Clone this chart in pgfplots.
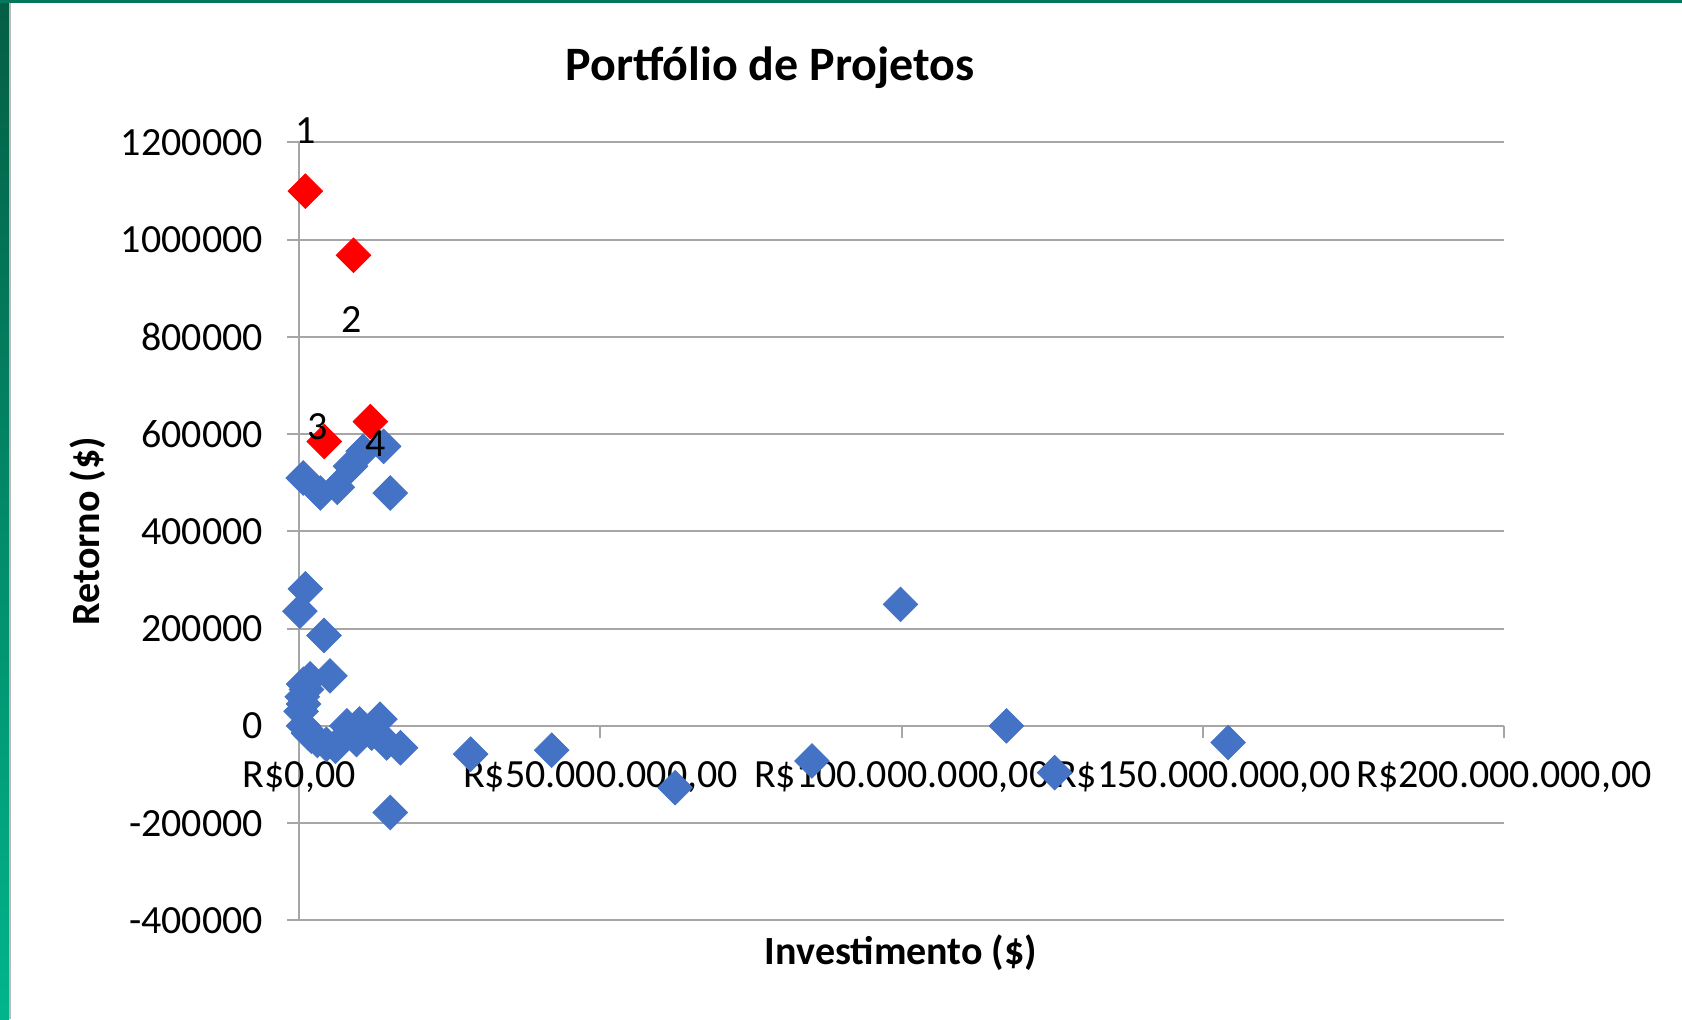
\documentclass[border=0pt]{standalone}
\usepackage{fontspec}
\setmainfont{Carlito}
\usepackage{pgfplots}
\pgfplotsset{compat=1.18}
\definecolor{blueM}{HTML}{4472C4}
\definecolor{redM}{HTML}{FF0000}
\definecolor{gridc}{HTML}{A6A6A6}
\definecolor{gdark}{HTML}{045E44}
\definecolor{glight}{HTML}{00B58C}
\pgfplotstableread{
x y
660000 510000
3500000 479000
6300000 491000
8500000 534000
10600000 565000
14000000 575000
15100000 479000
1000000 282000
100000 236000
4100000 186000
5100000 103000
1800000 97000
700000 86000
500000 60000
300000 30000
700000 45000
1200000 75000
700000 0
1500000 -15000
2000000 -21000
3000000 -30000
4500000 -38000
6000000 -42000
7900000 0
9500000 -28000
10000000 4000
12000000 -15000
13400000 14000
14500000 -35000
16800000 -45000
15100000 -178000
28450000 -58000
41900000 -50000
62400000 -127000
85100000 -72000
99800000 250000
117400000 0
125400000 -96000
154200000 -34000
}\bluedata
\pgfplotstableread{
x y
1000000 1100000
9000000 968000
4150000 585000
11800000 626000
}\reddata
\begin{document}
\begin{tikzpicture}[x=0.5pt,y=0.5pt]
\useasboundingbox (0,0) rectangle (1682,1019);
\fill[white] (0,0) rectangle (1682,1019);
\shade[top color=gdark, bottom color=glight] (0,0) rectangle (9,1019);
\fill[gdark!70!glight] (0,1016) rectangle (1682,1019);
\fill[gray!55] (9,0) rectangle (11,1016);
\begin{axis}[
  at={(149.65pt,49.3pt)}, anchor=south west,
  scale only axis, width=602.35pt, height=388.95pt,
  xmin=0, xmax=200000000, ymin=-400000, ymax=1200000,
  clip=false, scaled ticks=false,
  axis x line*=middle, axis y line*=left,
  hide obscured x ticks=false, hide obscured y ticks=false,
  axis line style={gridc, line width=1pt},
  xtick={0,50000000,100000000,150000000,200000000},
  xticklabels={R\$0{,}00,R\$50.000.000{,}00,R\$100.000.000{,}00,R\$150.000.000{,}00,R\$200.000.000{,}00},
  ytick={-400000,-200000,0,200000,400000,600000,800000,1000000,1200000},
  yticklabels={-400000,-200000,0,200000,400000,600000,800000,1000000,1200000},
  tick align=outside, major tick length=6pt,
  tick style={gridc, line width=1pt},
  ymajorgrids, grid style={gridc, line width=1pt},
  ticklabel style={font=\fontsize{20pt}{24pt}\selectfont, text=black},
  xticklabel style={anchor=north, yshift=-11.5pt, inner sep=0pt},
  yticklabel style={anchor=east, inner sep=0pt, xshift=-12pt},
]
\addplot[only marks, mark=square*, mark size=6.1pt,
  mark options={rotate=45, fill=blueM, draw=blueM, line width=0.4pt}] table[x=x,y=y] {\bluedata};
\addplot[only marks, mark=square*, mark size=6.1pt,
  mark options={rotate=45, fill=redM, draw=redM, line width=0.4pt}] table[x=x,y=y] {\reddata};
\coordinate (l1) at (axis cs:1000000,1225000);
\coordinate (l2) at (axis cs:8700000,836000);
\coordinate (l3) at (axis cs:3000000,615000);
\coordinate (l4) at (axis cs:12600000,580000);
\end{axis}
\node[font=\fontsize{20pt}{24pt}\selectfont] at (l1) {1};
\node[font=\fontsize{20pt}{24pt}\selectfont] at (l2) {2};
\node[font=\fontsize{20pt}{24pt}\selectfont] at (l3) {3};
\node[font=\fontsize{20pt}{24pt}\selectfont] at (l4) {4};
\node[font=\fontsize{24pt}{28pt}\selectfont\bfseries] at (770,951) {Portfólio de Projetos};
\node[font=\fontsize{20pt}{24pt}\selectfont\bfseries] at (901,66.5) {Investimento (\$)};
\node[font=\fontsize{20pt}{24pt}\selectfont\bfseries, rotate=90] at (87.4,488) {Retorno (\$)};
\end{tikzpicture}
\end{document}
